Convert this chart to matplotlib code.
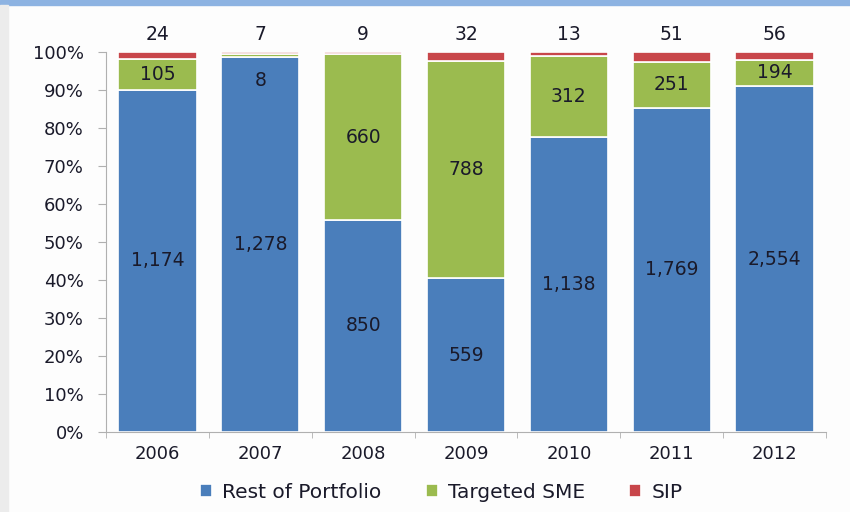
import numpy as np
import matplotlib as mpl
mpl.use('Agg')
import matplotlib.pyplot as plt
from matplotlib.patches import Rectangle

years = ['2006', '2007', '2008', '2009', '2010', '2011', '2012']
rest = [1174, 1278, 850, 559, 1138, 1769, 2554]
sme = [105, 8, 660, 788, 312, 251, 194]
sip = [24, 7, 9, 32, 13, 51, 56]
series_names = ['Rest of Portfolio', 'Targeted SME', 'SIP']

colors = ['#4a7ebb', '#9bbb4f', '#c8464a']
text_col = '#1a1a2a'

rest = np.array(rest, float)
sme = np.array(sme, float)
sip = np.array(sip, float)
tot = rest + sme + sip
p_rest = rest / tot * 100
p_sme = sme / tot * 100
p_sip = sip / tot * 100

fig = plt.figure(figsize=(8.5, 5.12), dpi=100)
fig.patch.set_facecolor('#fdfdfd')
# slide decorations: blue band on top, grey strip on the left
fig.add_artist(Rectangle((0, 0.99), 1, 0.01, transform=fig.transFigure,
                         color='#8db3e2', zorder=0))
fig.add_artist(Rectangle((0, 0), 0.009, 0.99, transform=fig.transFigure,
                         color='#ececec', zorder=0))

ax = fig.add_axes([0.1247, 0.156, 0.847, 0.742])
ax.set_facecolor('none')
x = np.arange(len(years))
w = 0.76

b1 = ax.bar(x, p_rest, w, color=colors[0], edgecolor='white', linewidth=1.2,
            label=series_names[0])
b2 = ax.bar(x, p_sme, w, bottom=p_rest, color=colors[1], edgecolor='white',
            linewidth=1.2, label=series_names[1])
b3 = ax.bar(x, p_sip, w, bottom=p_rest + p_sme, color=colors[2],
            edgecolor='white', linewidth=1.2, label=series_names[2])

fs = 13.5
for i in range(len(years)):
    ax.text(x[i], p_rest[i] / 2, format(int(rest[i]), ','), ha='center',
            va='center', fontsize=fs, color=text_col)
    yc = p_rest[i] + p_sme[i] / 2
    if p_sme[i] < 3:
        # tiny segment: label pushed down into the bar
        ax.annotate(format(int(sme[i]), ','), (x[i], yc), xytext=(0, -18),
                    textcoords='offset points', ha='center', va='center',
                    fontsize=fs, color=text_col)
    else:
        ax.text(x[i], yc, format(int(sme[i]), ','), ha='center', va='center',
                fontsize=fs, color=text_col)
    ax.annotate(format(int(sip[i]), ','), (x[i], 100), xytext=(0, 13),
                textcoords='offset points', ha='center', va='center',
                fontsize=fs, color=text_col)

ax.set_xlim(-0.5, len(years) - 0.5)
ax.set_ylim(0, 100)
ax.set_yticks(np.arange(0, 101, 10))
ax.set_yticklabels(['%d%%' % v for v in range(0, 101, 10)])
ax.set_xticks(x)
ax.set_xticklabels(years)
ax.set_xticks(np.arange(-0.5, len(years), 1), minor=True)
ax.tick_params(axis='x', which='major', length=0, pad=9, labelsize=13,
               labelcolor=text_col)
ax.tick_params(axis='x', which='minor', length=4, color='#b0b0b0')
ax.tick_params(axis='y', length=6, color='#b0b0b0', pad=10, labelsize=13,
               labelcolor=text_col)
for s in ['top', 'right']:
    ax.spines[s].set_visible(False)
for s in ['left', 'bottom']:
    ax.spines[s].set_color('#b0b0b0')

leg = fig.legend(handles=[b1, b2, b3], loc='center', ncol=3,
                 bbox_to_anchor=(0.519, 0.039), frameon=False, fontsize=14.5,
                 handlelength=0.6, handleheight=0.6, handletextpad=0.5,
                 columnspacing=2.2)
for t in leg.get_texts():
    t.set_color(text_col)

fig.savefig('out.png', dpi=100, facecolor=fig.get_facecolor())
